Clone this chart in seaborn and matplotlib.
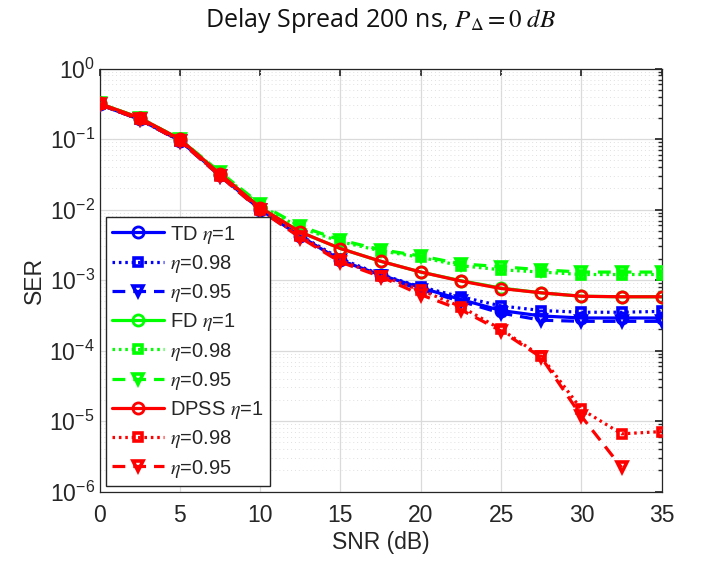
import numpy as np
import pandas as pd
import matplotlib
matplotlib.use("Agg")
import matplotlib.pyplot as plt
import seaborn as sns
from matplotlib.ticker import NullFormatter, FixedLocator, LogFormatterSciNotation

snr = [0, 2.5, 5, 7.5, 10, 12.5, 15, 17.5, 20, 22.5, 25, 27.5, 30, 32.5, 35]

td_1 = [0.31, 0.19, 0.095, 0.031, 0.0100, 0.0042, 0.0019, 0.00118, 0.00078, 0.00053,
        0.00037, 0.00031, 0.00029, 0.00029, 0.00029]
td_098 = [0.31, 0.19, 0.095, 0.031, 0.0101, 0.0043, 0.0020, 0.00120, 0.00080, 0.00058,
          0.00043, 0.00037, 0.00035, 0.00035, 0.00036]
td_095 = [0.31, 0.19, 0.094, 0.030, 0.0099, 0.0041, 0.0019, 0.00115, 0.00073, 0.00050,
          0.00034, 0.00027, 0.00026, 0.00026, 0.00026]

fd_1 = [0.32, 0.20, 0.100, 0.032, 0.0108, 0.0048, 0.0028, 0.00185, 0.0013, 0.00098,
        0.00077, 0.00066, 0.00059, 0.00058, 0.00058]
fd_098 = [0.32, 0.20, 0.100, 0.033, 0.0115, 0.0055, 0.0035, 0.0026, 0.0021, 0.0016,
          0.0014, 0.0013, 0.0012, 0.0012, 0.0012]
fd_095 = [0.32, 0.20, 0.100, 0.034, 0.0120, 0.0058, 0.0037, 0.0027, 0.0022, 0.0017,
          0.00155, 0.0014, 0.0013, 0.0013, 0.0013]

dpss_1 = [0.32, 0.20, 0.100, 0.032, 0.0107, 0.0048, 0.0028, 0.00185, 0.0013, 0.00097,
          0.00076, 0.00066, 0.00059, 0.00058, 0.00058]
dpss_098 = [0.31, 0.19, 0.095, 0.030, 0.0100, 0.0042, 0.0019, 0.00115, 0.00072, 0.00042,
            0.00020, 8.3e-5, 1.47e-5, 6.6e-6, 7.1e-6]
dpss_095 = [0.31, 0.19, 0.094, 0.030, 0.0098, 0.0040, 0.0018, 0.00112, 0.00062, 0.00038,
            0.00019, 8.0e-5, 1.17e-5, 2.2e-6, np.nan]

x_ticks = [0, 5, 10, 15, 20, 25, 30, 35]
y_ticks = [1e-6, 1e-5, 1e-4, 1e-3, 1e-2, 1e-1, 1e0]

labels = ["TD $\\eta$=1", "$\\eta$=0.98", "$\\eta$=0.95",
          "FD $\\eta$=1", "$\\eta$=0.98", "$\\eta$=0.95",
          "DPSS $\\eta$=1", "$\\eta$=0.98", "$\\eta$=0.95"]
series = [td_1, td_098, td_095, fd_1, fd_098, fd_095, dpss_1, dpss_098, dpss_095]

sns.set_theme(style="white")
plt.rcParams['font.family'] = ['Liberation Sans', 'DejaVu Sans']
plt.rcParams['mathtext.fontset'] = 'stix'

fig = plt.figure(figsize=(7.01, 5.67), dpi=100)
ax = fig.add_axes([0.142, 0.133, 0.944 - 0.142, 0.879 - 0.133])

colors = [(0, 0, 1), (0, 1, 0), (1, 0, 0)]
styles = ['-', (0, (0.8, 1.2)), (0, (4, 2.5))]
markers = ['o', 's', 'v']
msizes = [8, 6, 7]
mews = [2.0, 2.6, 2.6]

for i, (vals, lab) in enumerate(zip(series, labels)):
    c = colors[i // 3]
    j = i % 3
    df = pd.DataFrame({"SNR": snr, "SER": vals}).dropna()
    sns.lineplot(data=df, x="SNR", y="SER", ax=ax, color=c, linestyle=styles[j],
                 linewidth=2.3, marker=markers[j], markersize=msizes[j],
                 markerfacecolor='none', markeredgecolor=c, markeredgewidth=mews[j],
                 label=lab, zorder=3 + i)

ax.set_yscale('log')
ax.set_xlim(0, 35)
ax.set_ylim(1e-6, 1)
ax.xaxis.set_major_locator(FixedLocator(x_ticks))
ax.yaxis.set_major_locator(FixedLocator(y_ticks))
ax.yaxis.set_major_formatter(LogFormatterSciNotation())
minor = [m * 10.0 ** e for e in range(-6, 0) for m in range(2, 10)]
ax.yaxis.set_minor_locator(FixedLocator(minor))
ax.yaxis.set_minor_formatter(NullFormatter())

ax.grid(True, which='major', color='#dadada', linewidth=0.9, linestyle='-')
ax.grid(True, which='minor', axis='y', color='#e0e0e0', linewidth=0.7, linestyle=(0, (1, 3)))
ax.set_axisbelow(True)

for sp in ax.spines.values():
    sp.set_color('#262626')
    sp.set_linewidth(0.9)
ax.tick_params(axis='both', which='both', direction='in', top=True, right=True,
               colors='#262626', labelsize=16.5, labelcolor='#262626')
ax.tick_params(axis='x', which='major', pad=9)
ax.tick_params(which='major', length=5)
ax.tick_params(which='minor', length=3)

ax.set_xlabel("SNR (dB)", fontsize=16.5, color='#262626', labelpad=3)
ax.set_ylabel("SER", fontsize=16.5, color='#262626', labelpad=2)
ax.set_title("Delay Spread 200 ns, $P_{\\Delta} = 0\\ dB$", fontsize=18, color='#111111',
             pad=30, family=['Open Sans', 'DejaVu Sans'])

leg = ax.legend(loc='lower left', bbox_to_anchor=(0.0, 0.0), fontsize=14.5,
                handlelength=2.6, handletextpad=0.3, labelspacing=0.36,
                borderpad=0.3, borderaxespad=0.3, frameon=True, fancybox=False,
                framealpha=1.0, edgecolor='#262626')
leg.get_frame().set_linewidth(1.0)
leg.set_zorder(20)

fig.savefig("out.png", dpi=100)
